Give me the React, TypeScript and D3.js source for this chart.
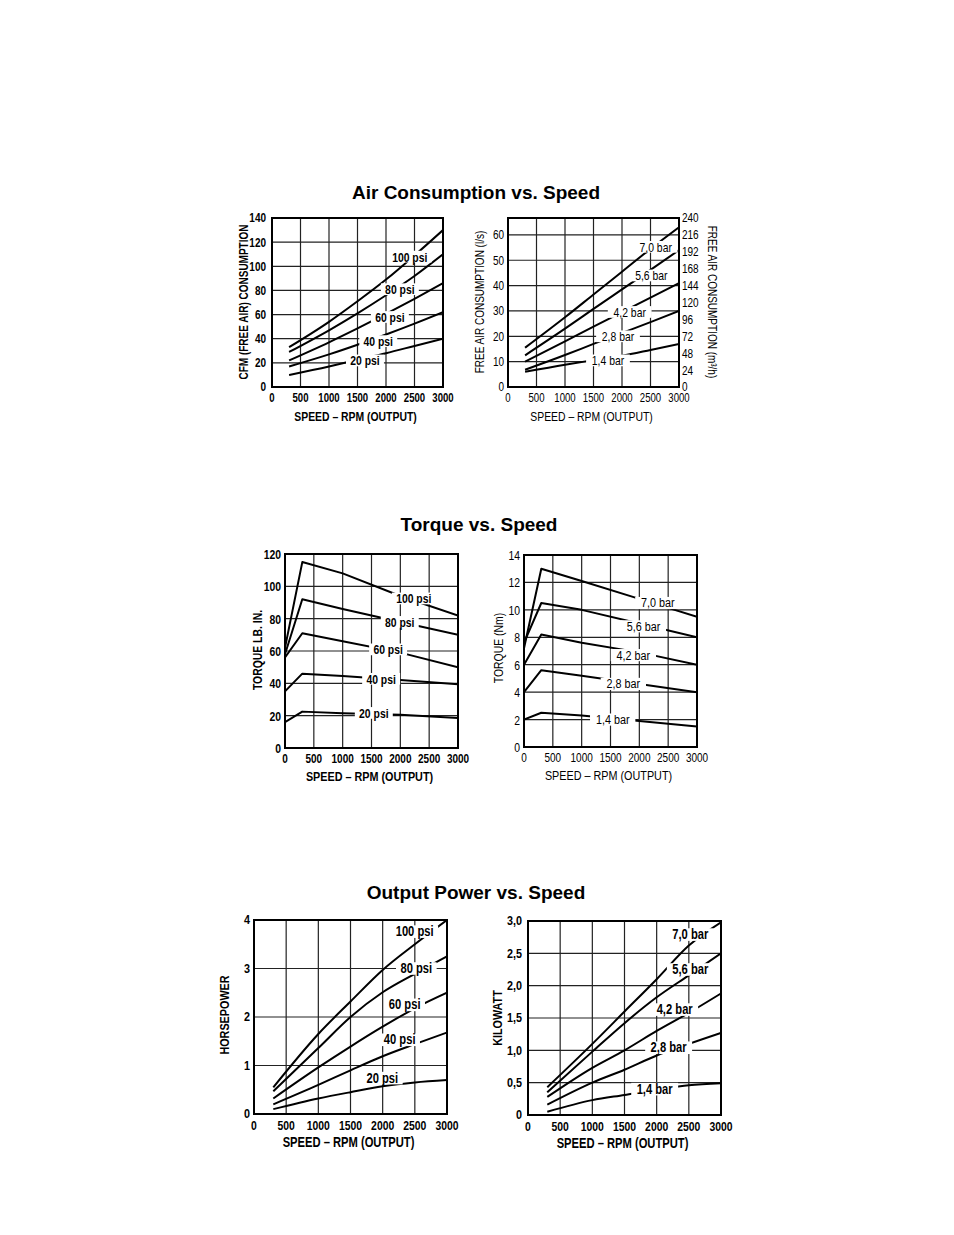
import * as d3 from 'd3';

// shared x values (rpm)
const rpm = [300, 1000, 1500, 2000, 2500, 3000];
const rpmTorque = [0, 300, 1000, 2000, 3000];
const xTicks = [0, 500, 1000, 1500, 2000, 2500, 3000];

const psiNames = ['100 psi', '80 psi', '60 psi', '40 psi', '20 psi'];
const barNames = ['7,0 bar', '5,6 bar', '4,2 bar', '2,8 bar', '1,4 bar'];

// air consumption, cfm
const cfm100 = [33, 54, 71, 89, 109, 130];
const cfm80 = [29, 47, 61, 76, 92, 110];
const cfm60 = [22, 37, 48.5, 60.5, 73, 86];
const cfm40 = [17, 27, 35, 43.5, 52.5, 62];
const cfm20 = [10, 17, 22.5, 28, 34, 40];
const cfmTicks = [0, 20, 40, 60, 80, 100, 120, 140];

// air consumption, l/s
const ls70 = [15.5, 27.5, 36.5, 45.5, 54.5, 63];
const ls56 = [12.5, 23, 30.8, 38.5, 46.2, 54];
const ls42 = [10, 18, 23.8, 29.5, 35.3, 41];
const ls28 = [6.8, 12.6, 17, 21.3, 25.6, 30];
const ls14 = [6, 8.8, 10.6, 12.3, 14.6, 17];
const lsTicks = [0, 10, 20, 30, 40, 50, 60];
const m3hTicks = [0, 24, 48, 72, 96, 120, 144, 168, 192, 216, 240];

// torque, lb in
const tq100 = [62, 115, 108, 94, 82];
const tq80 = [58, 92, 86, 78, 70];
const tq60 = [56, 71, 66, 59, 50];
const tq40 = [35, 46, 44.5, 42, 39.5];
const tq20 = [16, 22.5, 21.5, 20.5, 18.5];
const tqTicks = [0, 20, 40, 60, 80, 100, 120];

// torque, Nm
const nm70 = [7.2, 13, 12.1, 10.8, 9.5];
const nm56 = [7.6, 10.5, 10, 9, 8];
const nm42 = [6, 8.2, 7.6, 6.9, 6];
const nm28 = [4, 5.6, 5.2, 4.6, 4];
const nm14 = [2, 2.5, 2.3, 1.9, 1.5];
const nmTicks = [0, 2, 4, 6, 8, 10, 12, 14];

// output power, hp
const hp100 = [0.55, 1.65, 2.32, 2.97, 3.5, 4.0];
const hp80 = [0.47, 1.36, 2.0, 2.51, 2.89, 3.25];
const hp60 = [0.32, 0.96, 1.39, 1.8, 2.18, 2.5];
const hp40 = [0.2, 0.6, 0.9, 1.19, 1.44, 1.68];
const hp20 = [0.1, 0.32, 0.45, 0.57, 0.65, 0.7];
const hpTicks = [0, 1, 2, 3, 4];

// output power, kW
const kw70 = [0.43, 1.1, 1.6, 2.1, 2.62, 2.98];
const kw56 = [0.35, 0.98, 1.42, 1.82, 2.16, 2.5];
const kw42 = [0.28, 0.73, 1.0, 1.3, 1.58, 1.88];
const kw28 = [0.16, 0.5, 0.7, 0.92, 1.1, 1.27];
const kw14 = [0.05, 0.23, 0.31, 0.39, 0.46, 0.49];
const kwTicks = [0, 0.5, 1, 1.5, 2, 2.5, 3];

const FONT = "'Liberation Sans', Arial, Helvetica, sans-serif";
const SX = 0.8; // horizontal squeeze to mimic the condensed face

type TProps = {
  x: number; y: number; children: React.ReactNode;
  anchor?: 'start' | 'middle' | 'end'; size?: number; bold?: boolean; rotate?: number;
};

function T({ x, y, children, anchor = 'middle', size = 12.5, bold = true, rotate = 0 }: TProps) {
  return (
    <text
      transform={`translate(${x},${y}) rotate(${rotate}) scale(${SX},1)`}
      textAnchor={anchor}
      dominantBaseline="central"
      fontFamily={FONT}
      fontSize={size}
      fontWeight={bold ? 'bold' : 'normal'}
      fill="#000"
    >
      {children}
    </text>
  );
}

type Panel = {
  id: string;
  left: number; top: number; right: number; bottom: number;
  yMax: number;
  yTicks: number[];
  fmt?: (v: number) => string;
  series: number[][];
  xs: number[];
  names: string[];
  labelAt: [number, number][];
  yTitle: string;
  yTitleX: number;
  yTitleY: number;
  tickGap: number;
  bold: boolean;
  smooth: boolean;
  size: number;
  labelSize: number;
  right2?: { max: number; ticks: number[]; title: string; titleX: number };
};

const comma = (v: number) => (v === 0 ? '0' : d3.format('.1f')(v).replace('.', ','));

const panels: Panel[] = [
  {
    id: 'cfm', left: 272, top: 218, right: 443, bottom: 387, yMax: 140, yTicks: cfmTicks,
    series: [cfm100, cfm80, cfm60, cfm40, cfm20], xs: rpm, names: psiNames,
    labelAt: [[2417, 108], [2243, 81], [2068, 58], [1864, 38], [1631, 22]],
    yTitle: 'CFM (FREE AIR) CONSUMPTION', yTitleX: 244, yTitleY: 302, tickGap: 6,
    bold: true, smooth: true, size: 12.5, labelSize: 13,
  },
  {
    id: 'ls', left: 508, top: 218, right: 679, bottom: 387, yMax: 240 / 3.6, yTicks: lsTicks,
    series: [ls70, ls56, ls42, ls28, ls14], xs: rpm, names: barNames,
    labelAt: [[2591, 55.3], [2515, 44], [2135, 29.6], [1930, 20], [1754, 10.5]],
    yTitle: 'FREE AIR CONSUMPTION (l/s)', yTitleX: 480, yTitleY: 302, tickGap: 4,
    bold: false, smooth: true, size: 12.5, labelSize: 13,
    right2: { max: 240, ticks: m3hTicks, title: 'FREE AIR CONSUMPTION (m³/h)', titleX: 712 },
  },
  {
    id: 'tq', left: 285, top: 554, right: 458, bottom: 748, yMax: 120, yTicks: tqTicks,
    series: [tq100, tq80, tq60, tq40, tq20], xs: rpmTorque, names: psiNames,
    labelAt: [[2233, 92.5], [1990, 78], [1788, 61], [1667, 42.8], [1540, 21.7]],
    yTitle: 'TORQUE LB. IN.', yTitleX: 257, yTitleY: 650, tickGap: 4,
    bold: true, smooth: false, size: 13, labelSize: 13,
  },
  {
    id: 'nm', left: 524, top: 555, right: 697, bottom: 747, yMax: 14, yTicks: nmTicks,
    series: [nm70, nm56, nm42, nm28, nm14], xs: rpmTorque, names: barNames,
    labelAt: [[2321, 10.5], [2071, 8.8], [1897, 6.7], [1723, 4.6], [1538, 2.0]],
    yTitle: 'TORQUE (Nm)', yTitleX: 498, yTitleY: 648, tickGap: 4,
    bold: false, smooth: false, size: 13, labelSize: 13.5,
  },
  {
    id: 'hp', left: 254, top: 920, right: 447, bottom: 1114, yMax: 4, yTicks: hpTicks,
    series: [hp100, hp80, hp60, hp40, hp20], xs: rpm, names: psiNames,
    labelAt: [[2497, 3.76], [2523, 3.0], [2342, 2.25], [2264, 1.53], [1995, 0.74]],
    yTitle: 'HORSEPOWER', yTitleX: 225, yTitleY: 1015, tickGap: 4,
    bold: true, smooth: true, size: 13.5, labelSize: 14,
  },
  {
    id: 'kw', left: 528, top: 921, right: 721, bottom: 1115, yMax: 3, yTicks: kwTicks, fmt: comma,
    series: [kw70, kw56, kw42, kw28, kw14], xs: rpm, names: barNames,
    labelAt: [[2523, 2.79], [2523, 2.25], [2280, 1.63], [2186, 1.04], [1969, 0.4]],
    yTitle: 'KILOWATT', yTitleX: 498, yTitleY: 1018, tickGap: 6,
    bold: true, smooth: true, size: 13.5, labelSize: 14,
  },
];

function ChartPanel({ p }: { p: Panel }) {
  const x = d3.scaleLinear().domain([0, 3000]).range([p.left, p.right]);
  const y = d3.scaleLinear().domain([0, p.yMax]).range([p.bottom, p.top]);
  const line = d3.line<number>()
    .x((_, i) => x(p.xs[i]))
    .y(d => y(d))
    .curve(p.smooth ? d3.curveMonotoneX : d3.curveLinear);
  const fmt = p.fmt ?? ((v: number) => String(v));
  const clipId = `clip-${p.id}`;
  const charW = p.labelSize * 0.56 * SX;

  return (
    <g>
      <defs>
        <clipPath id={clipId}>
          <rect x={p.left} y={p.top} width={p.right - p.left} height={p.bottom - p.top} />
        </clipPath>
      </defs>
      {/* grid */}
      {xTicks.slice(1, -1).map(t => (
        <line key={`vx${t}`} x1={x(t)} x2={x(t)} y1={p.top} y2={p.bottom} stroke="#222" strokeWidth={1.2} />
      ))}
      {p.yTicks.filter(t => t > 0 && y(t) > p.top + 1).map(t => (
        <line key={`hy${t}`} x1={p.left} x2={p.right} y1={y(t)} y2={y(t)} stroke="#222" strokeWidth={1.2} />
      ))}
      {/* curves */}
      <g clipPath={`url(#${clipId})`}>
        {p.series.map((s, i) => (
          <path key={i} d={line(s)!} fill="none" stroke="#000" strokeWidth={2} strokeLinejoin="round" />
        ))}
      </g>
      {/* curve labels */}
      {p.names.map((n, i) => {
        const [lx, ly] = p.labelAt[i];
        const w = n.length * charW + 3;
        return (
          <g key={n}>
            <rect x={x(lx) - w / 2} y={y(ly) - p.labelSize * 0.45} width={w} height={p.labelSize * 0.9} fill="#fff" />
            <T x={x(lx)} y={y(ly)} size={p.labelSize} bold={p.bold}>{n}</T>
          </g>
        );
      })}
      {/* frame */}
      <rect x={p.left} y={p.top} width={p.right - p.left} height={p.bottom - p.top} fill="none" stroke="#000" strokeWidth={2} />
      {/* y ticks */}
      {p.yTicks.map(t => (
        <T key={`yt${t}`} x={p.left - p.tickGap} y={y(t)} anchor="end" size={p.size} bold={p.bold}>{fmt(t)}</T>
      ))}
      {/* x ticks */}
      {xTicks.map(t => (
        <T key={`xt${t}`} x={x(t)} y={p.bottom + 11} size={p.size - 0.5} bold={p.bold}>{t}</T>
      ))}
      <T x={(p.left + p.right) / 2 - 2} y={p.bottom + 29} size={p.size + 0.5} bold={p.bold}>SPEED – RPM (OUTPUT)</T>
      <T x={p.yTitleX} y={p.yTitleY} rotate={-90} size={p.size} bold={p.bold}>{p.yTitle}</T>
      {p.right2 && (() => {
        const r = p.right2;
        const y2 = d3.scaleLinear().domain([0, r.max]).range([p.bottom, p.top]);
        return (
          <g>
            {r.ticks.map(t => (
              <T key={`r${t}`} x={p.right + 3} y={y2(t)} anchor="start" size={p.size} bold={p.bold}>{t}</T>
            ))}
            <T x={r.titleX} y={p.yTitleY} rotate={90} size={p.size} bold={p.bold}>{r.title}</T>
          </g>
        );
      })()}
    </g>
  );
}

const titles = [
  { text: 'Air Consumption vs. Speed', x: 476, y: 192 },
  { text: 'Torque vs. Speed', x: 479, y: 524 },
  { text: 'Output Power vs. Speed', x: 476, y: 892 },
];

export default function App() {
  return (
    <svg width={954} height={1235} style={{ position: 'absolute', left: 0, top: 0, background: '#fff' }}>
      <rect width={954} height={1235} fill="#fff" />
      {titles.map(t => (
        <text key={t.text} x={t.x} y={t.y} textAnchor="middle" dominantBaseline="central"
          fontFamily={FONT} fontSize={19} fontWeight="bold">{t.text}</text>
      ))}
      {panels.map(p => <ChartPanel key={p.id} p={p} />)}
    </svg>
  );
}
